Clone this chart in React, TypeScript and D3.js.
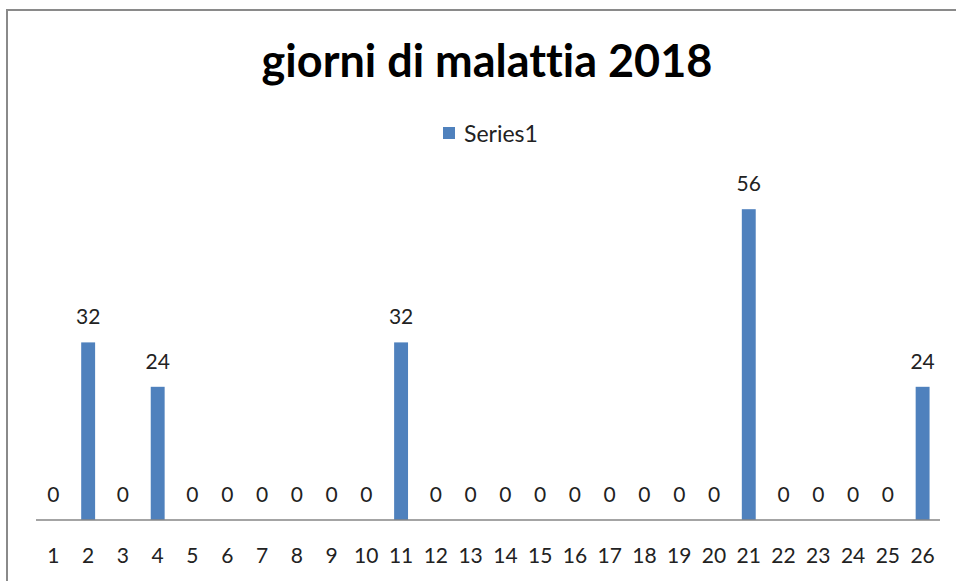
import React, { useEffect, useRef } from "react";
import * as d3 from "d3";

const categories = ["1","2","3","4","5","6","7","8","9","10","11","12","13","14","15","16","17","18","19","20","21","22","23","24","25","26"];
const series1 = [0,32,0,24,0,0,0,0,0,0,32,0,0,0,0,0,0,0,0,0,56,0,0,0,0,24];
const seriesName = "Series1";
const title = "giorni di malattia 2018";

const App = () => {
  const ref = useRef<SVGSVGElement>(null);

  useEffect(() => {
    const svg = d3.select(ref.current);
    svg.selectAll("*").remove();

    const W = 956, H = 581;
    const font = "Lato, 'Open Sans', sans-serif";
    const left = 36, right = 940, baseline = 520;

    // frame
    svg.append("rect")
      .attr("x", 7).attr("y", 10)
      .attr("width", W + 20).attr("height", H + 20)
      .attr("fill", "#fff").attr("stroke", "#8a8a8a").attr("stroke-width", 2);

    const x = d3.scaleBand().domain(categories).range([left, right])
      .paddingInner(0.6).paddingOuter(0.3);
    const y = d3.scaleLinear().domain([0, 60]).range([baseline, 187]);

    // title
    svg.append("text")
      .attr("x", 487).attr("y", 77)
      .attr("text-anchor", "middle")
      .attr("font-family", font).attr("font-weight", "bold")
      .attr("font-size", 45).attr("fill", "#000")
      .style("font-variant-ligatures", "none")
      .text(title);

    // legend
    const lg = svg.append("g");
    lg.append("rect").attr("x", 443).attr("y", 127).attr("width", 12).attr("height", 12).attr("fill", "#4f81bd");
    lg.append("text").attr("x", 464).attr("y", 142)
      .attr("font-family", font).attr("font-size", 23).attr("fill", "#222")
      .text(seriesName);

    // bars
    svg.selectAll(".bar")
      .data(series1)
      .enter().append("rect")
      .attr("class", "bar")
      .attr("x", (d, i) => x(categories[i]))
      .attr("y", d => y(d))
      .attr("width", x.bandwidth())
      .attr("height", d => baseline - y(d))
      .attr("fill", "#4f81bd");

    // data labels
    svg.selectAll(".lbl")
      .data(series1)
      .enter().append("text")
      .attr("class", "lbl")
      .attr("x", (d, i) => x(categories[i]) + x.bandwidth() / 2)
      .attr("y", d => y(d) - 18)
      .attr("text-anchor", "middle")
      .attr("font-family", font).attr("font-size", 21).attr("fill", "#222")
      .text(d => d);

    // x axis
    const axis = svg.append("g")
      .attr("transform", `translate(0, ${baseline})`)
      .call(d3.axisBottom(x).tickSize(0).tickPadding(28));
    axis.select(".domain").attr("stroke", "#868686").attr("stroke-width", 1.5)
      .attr("d", `M${left},0H${right}`);
    axis.selectAll("text")
      .attr("font-family", font).attr("font-size", 21).attr("fill", "#222");
  }, []);

  return <svg ref={ref} width={956} height={581} style={{ position: "absolute", left: 0, top: 0 }} />;
};

export default App;
